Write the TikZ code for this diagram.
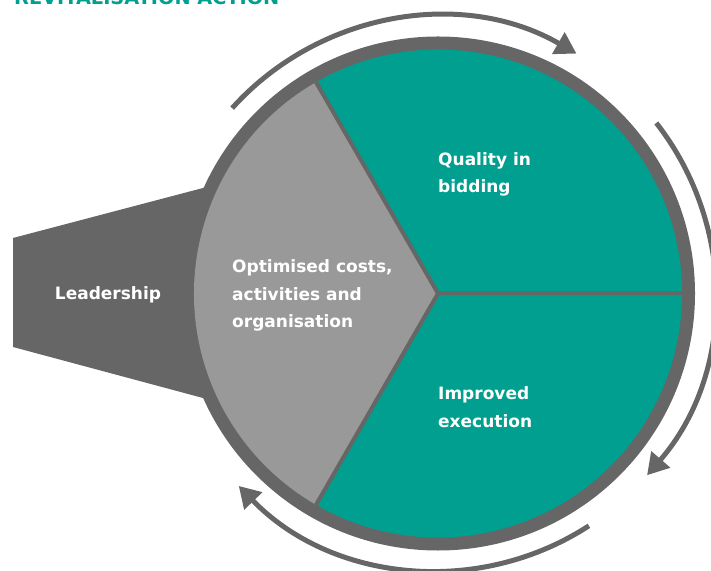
\documentclass[tikz,border=0pt]{standalone}
\usepackage{fontspec}
\setmainfont{DejaVu Sans}
\usetikzlibrary{arrows.meta,calc}
\definecolor{ringgray}{RGB}{102,102,102}
\definecolor{lightgray2}{RGB}{153,153,153}
\definecolor{teal2}{RGB}{0,159,143}
\tikzset{
  arr/.style={draw=ringgray,line width=5pt,-{Triangle[width=24pt,length=21pt]}},
  divider/.style={draw=ringgray,line width=4pt},
  label/.style={text=white,font=\fontsize{17}{27.5}\selectfont\bfseries,align=left,inner sep=0pt}
}
\begin{document}
\begin{tikzpicture}[x=1pt,y=1pt]
\useasboundingbox (0,0) rectangle (711,570);
\coordinate (c) at (438,276.5);
% title (cut at top)
\node[anchor=base west,inner sep=0pt,text=teal2,font=\fontsize{19.3}{22}\selectfont\bfseries] (title) at (14,565) {REVITALISATION ACTION};
% leadership trapezoid
\fill[ringgray] (13,332) -- (203,382) -- (260,382) -- (260,172) -- (203,172) -- (13,223) -- cycle;
% ring
\fill[ringgray] (c) circle[radius=257];
% sectors
\fill[teal2] (c) -- ++(0:244) arc[start angle=0,end angle=120,radius=244] -- cycle;
\fill[teal2] (c) -- ++(240:244) arc[start angle=240,end angle=360,radius=244] -- cycle;
\fill[lightgray2] (c) -- ++(120:244) arc[start angle=120,end angle=240,radius=244] -- cycle;
\draw[divider] (c) -- ++(0:244);
\draw[divider] (c) -- ++(120:244);
\draw[divider] (c) -- ++(240:244);
% arrows
\coordinate (a1) at ($(c)+(138:277)$);
\coordinate (a2) at ($(c)+(38:277)$);
\coordinate (a3) at ($(c)+(-57:277)$);
\draw[arr] (a1) arc[start angle=138,end angle=60,radius=277];
\draw[arr] (a2) arc[start angle=38,end angle=-41,radius=277];
\draw[arr] (a3) arc[start angle=-57,end angle=-136,radius=277];
% labels
\node[label,anchor=center] (lead) at (108,275) {Leadership};
\node[label,anchor=west] (opt) at (232,274.5) {Optimised costs,\\activities and\\organisation};
\node[label,anchor=west] (qual) at (438,395.5) {Quality in\\bidding};
\node[label,anchor=west] (impr) at (438,163) {Improved\\execution};
\end{tikzpicture}
\end{document}
